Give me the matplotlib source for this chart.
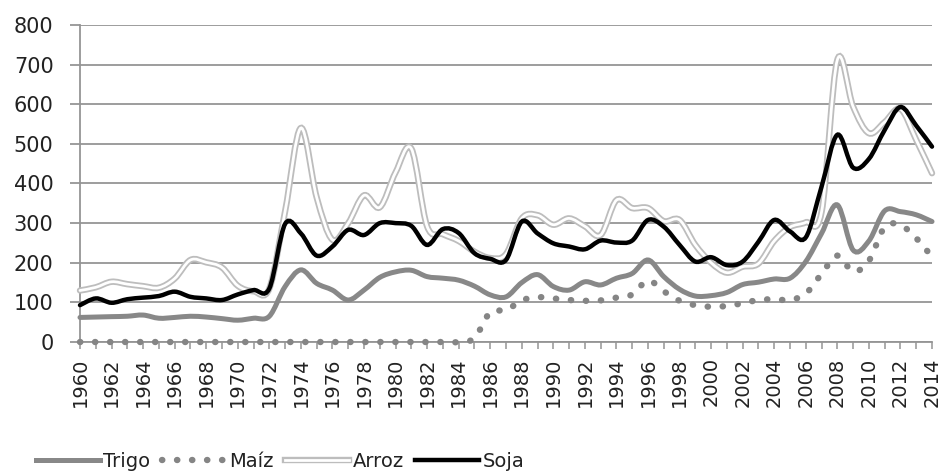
#!/usr/bin/env python3
"""Precios internacionales de trigo, maíz, arroz y soja, 1960-2014."""

from __future__ import annotations

import matplotlib

matplotlib.use("Agg")

import matplotlib.pyplot as plt
import numpy as np
from matplotlib.lines import Line2D
from matplotlib.patches import PathPatch
from matplotlib.path import Path

years = list(range(1960, 2015))

trigo = [
    62, 63, 64, 65, 68, 60, 62, 65, 63, 59,
    55, 60, 65, 140, 182, 148, 131, 106, 131, 163,
    177, 181, 165, 161, 156, 141, 119, 114, 150, 170,
    140, 131, 152, 144, 161, 173, 207, 165, 133, 116,
    117, 125, 145, 151, 159, 161, 203, 274, 346, 232,
    255, 331, 329, 321, 304,
]
maiz = [
    0, 0, 0, 0, 0, 0, 0, 0, 0, 0,
    0, 0, 0, 0, 0, 0, 0, 0, 0, 0,
    0, 0, 0, 0, 0, 10, 75, 80, 105, 113,
    110, 106, 104, 105, 112, 120, 155, 128, 104, 93,
    89, 91, 98, 106, 108, 106, 122, 172, 218, 178,
    205, 290, 295, 262, 215,
]
arroz = [
    130, 138, 152, 146, 141, 137, 160, 207, 201, 188,
    142, 128, 135, 330, 540, 365, 258, 300, 370, 340,
    428, 488, 292, 272, 255, 228, 212, 222, 312, 320,
    296, 312, 292, 270, 358, 338, 338, 305, 308, 245,
    200, 175, 190, 198, 255, 290, 302, 328, 712, 594,
    527, 555, 588, 510, 426,
]
soja = [
    93, 110, 99, 108, 112, 116, 127, 114, 110, 106,
    120, 131, 135, 298, 274, 218, 241, 283, 270, 300,
    300, 293, 245, 285, 275, 224, 210, 207, 304, 274,
    249, 241, 234, 256, 251, 256, 308, 291, 245, 203,
    214, 194, 203, 253, 308, 279, 264, 392, 523, 440,
    462, 535, 593, 546, 493,
]

GRID = "#959595"
TEXT = "#222222"
DOTS = (0, (0.05, 2.3))


def _smooth_path(xs, ys) -> Path:
    """Excel-style smoothed line: cubic Bezier through every point."""
    p = np.column_stack([xs, ys]).astype(float)
    ext = np.vstack([p[0], p, p[-1]])
    verts = [p[0]]
    codes = [Path.MOVETO]
    for i in range(len(p) - 1):
        p0, p1, p2, p3 = ext[i], ext[i + 1], ext[i + 2], ext[i + 3]
        verts += [p1 + (p2 - p0) / 6, p2 - (p3 - p1) / 6, p2]
        codes += [Path.CURVE4] * 3
    return Path(verts, codes)


def _draw(ax, ys, zorder, **kw) -> None:
    patch = PathPatch(_smooth_path(years, ys), fill=False, zorder=zorder,
                      clip_on=False, capstyle="round", **kw)
    ax.add_patch(patch)


def main() -> None:
    fig = plt.figure(figsize=(9.4, 4.76), dpi=100)
    ax = fig.add_axes([0.0851, 0.2815, 0.9064, 0.666])

    _draw(ax, trigo, 3, edgecolor="#888888", linewidth=3.6)
    _draw(ax, maiz, 4, edgecolor="#858585", linewidth=4.6, linestyle=DOTS)
    _draw(ax, arroz, 5, edgecolor="#bdbdbd", linewidth=4.6)
    _draw(ax, arroz, 6, edgecolor="white", linewidth=2.0)
    _draw(ax, soja, 7, edgecolor="black", linewidth=3.2)

    ax.set_xlim(1960, 2014)
    ax.set_ylim(0, 800)
    ax.set_yticks(range(0, 801, 100))
    ax.set_xticks(years, minor=True)
    ax.set_xticks(years[::2])
    ax.set_xticklabels([str(y) for y in years[::2]], rotation=90)
    ax.grid(axis="y", color=GRID, linewidth=1.3, zorder=1)
    ax.set_axisbelow(True)

    for side in ("top", "right"):
        ax.spines[side].set_visible(False)
    for side in ("left", "bottom"):
        ax.spines[side].set_color(GRID)
        ax.spines[side].set_linewidth(1.3)

    ax.tick_params(axis="y", direction="out", length=7, width=1.3, color=GRID,
                   labelsize=15, labelcolor=TEXT, pad=12)
    ax.tick_params(axis="x", which="both", direction="out", length=5, width=1.1,
                   color=GRID, labelsize=14, labelcolor=TEXT, pad=6)

    handles = [
        Line2D([], [], color="#888888", linewidth=3.6),
        Line2D([], [], color="#858585", linewidth=4.6, linestyle=DOTS,
               dash_capstyle="round"),
        (Line2D([], [], color="#bdbdbd", linewidth=4.6),
         Line2D([], [], color="white", linewidth=2.0)),
        Line2D([], [], color="black", linewidth=3.2),
    ]
    fig.legend(handles, ["Trigo", "Maíz", "Arroz", "Soja"], loc="center",
               bbox_to_anchor=(0.298, 0.03), ncol=4, frameon=False,
               fontsize=14, labelcolor=TEXT, handlelength=3.3,
               handletextpad=0.15, columnspacing=0.6, borderaxespad=0)

    fig.savefig("out.png", dpi=100)
    plt.close(fig)


if __name__ == "__main__":
    main()
